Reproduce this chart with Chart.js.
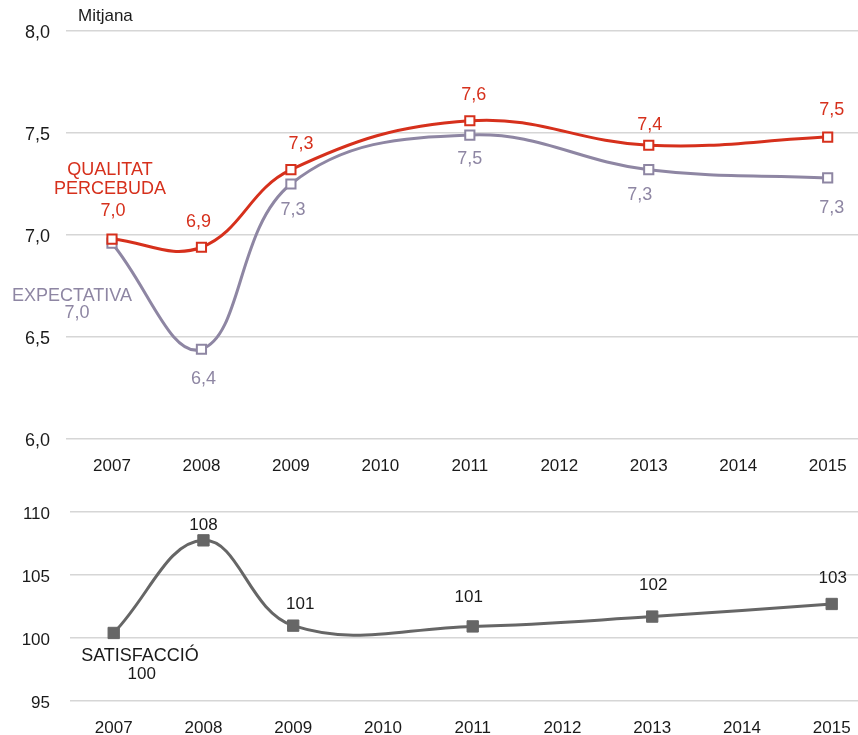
<!DOCTYPE html>
<html>
<head>
<meta charset="utf-8">
<script src="https://cdn.jsdelivr.net/npm/chart.js@4/dist/chart.umd.min.js"></script>
<style>
  body { margin: 0; background: #fff; }
  #dalt { position: absolute; left: 0; top: 0; width: 858px; height: 480px; }
  #baix { position: absolute; left: 0; top: 480px; width: 858px; height: 255px; }
</style>
</head>
<body>
<div id="dalt"><canvas id="grafic1" width="858" height="480"></canvas></div>
<div id="baix"><canvas id="grafic2" width="858" height="255"></canvas></div>
<script>
// Anys de l'eix X (2010, 2012 i 2014 sense dades)
const anys = [2007, 2008, 2009, 2010, 2011, 2012, 2013, 2014, 2015];
const anysAmbDades = [2007, 2008, 2009, 2011, 2013, 2015];

// Mitjana (escala 0-10)
const qualitatPercebuda = [6.98, 6.94, 7.32, 7.56, 7.44, 7.48];
const expectativa = [6.96, 6.44, 7.25, 7.49, 7.32, 7.28];

// Índex de satisfacció (2007 = 100)
const satisfaccio = [100.4, 107.75, 100.98, 100.92, 101.7, 102.7];

const vermell = '#d6301c';
const lila = '#8e86a3';
const gris = '#666666';
const textFosc = '#1a1a1a';

Chart.defaults.font.family = '"Liberation Sans", Arial, sans-serif';
Chart.defaults.color = textFosc;

const coma = v => v.toFixed(1).replace('.', ',');
const punts = vals => vals.map((v, i) => ({ x: anysAmbDades[i], y: v }));

// Etiquetes de valor i textos fixos
const etiquetes = {
    id: 'etiquetes',
    afterDatasetsDraw(chart, args, opts) {
        const ctx = chart.ctx;
        ctx.save();
        ctx.textAlign = 'center';
        ctx.textBaseline = 'middle';
        (opts.series || []).forEach(s => {
            const meta = chart.getDatasetMeta(s.dataset);
            const valors = chart.data.datasets[s.dataset].data;
            ctx.fillStyle = s.color;
            ctx.font = s.font;
            meta.data.forEach((pt, i) => {
                const d = s.offsets[i];
                ctx.fillText(s.format(valors[i].y), pt.x + d[0], pt.y + d[1]);
            });
        });
        (opts.notes || []).forEach(n => {
            ctx.fillStyle = n.color;
            ctx.font = n.font;
            ctx.textAlign = n.align || 'center';
            ctx.fillText(n.text, n.x, n.y);
        });
        ctx.restore();
    }
};

function eixX(min, max, alt) {
    return {
        type: 'linear',
        min: min,
        max: max,
        afterBuildTicks: s => { s.ticks = anys.map(v => ({ value: v })); },
        afterFit: s => {
            s.height = alt;
            s.paddingLeft = 0;
            s.paddingRight = 0;
        },
        grid: { display: false },
        border: { display: false },
        ticks: {
            autoSkip: false,
            maxRotation: 0,
            padding: 9,
            font: { size: 17 },
            color: textFosc,
            callback: v => String(v)
        }
    };
}

new Chart(document.getElementById('grafic1'), {
    type: 'line',
    data: {
        datasets: [
            {
                label: 'Qualitat percebuda',
                data: punts(qualitatPercebuda),
                borderColor: vermell,
                borderWidth: 3,
                tension: 0.4,
                pointStyle: 'rect',
                pointRadius: 6.5,
                pointBorderWidth: 2,
                pointBackgroundColor: '#fff',
                pointBorderColor: vermell
            },
            {
                label: 'Expectativa',
                data: punts(expectativa),
                borderColor: lila,
                borderWidth: 3,
                tension: 0.4,
                pointStyle: 'rect',
                pointRadius: 6.5,
                pointBorderWidth: 2,
                pointBackgroundColor: '#fff',
                pointBorderColor: lila
            }
        ]
    },
    options: {
        responsive: false,
        animation: false,
        layout: { autoPadding: false, padding: { top: 31, right: 0, bottom: 0, left: 0 } },
        scales: {
            x: eixX(2006.486, 2015.339, 41),
            y: {
                min: 6,
                max: 8,
                afterFit: s => { s.width = 66; },
                border: { display: false },
                grid: { color: '#d6d6d6', lineWidth: 1.5, drawTicks: false },
                ticks: { stepSize: 0.5, padding: 16, labelOffset: 2, font: { size: 18 }, color: textFosc, callback: v => coma(v) }
            }
        },
        plugins: {
            legend: { display: false },
            tooltip: { enabled: false },
            etiquetes: {
                series: [
                    { dataset: 0, color: vermell, font: '18px "Liberation Sans", Arial, sans-serif', format: coma,
                      offsets: [[1, -28], [-3, -25], [10, -26], [4, -26], [1, -20], [4, -27]] },
                    { dataset: 1, color: lila, font: '18px "Liberation Sans", Arial, sans-serif', format: coma,
                      offsets: [[-35, 70], [2, 30], [2, 26], [0, 24], [-9, 25], [4, 30]] }
                ],
                notes: [
                    { text: 'Mitjana', x: 78, y: 16, align: 'left', color: textFosc, font: '17px "Liberation Sans", Arial, sans-serif' },
                    { text: 'QUALITAT', x: 110, y: 170, color: vermell, font: '18px "Liberation Sans", Arial, sans-serif' },
                    { text: 'PERCEBUDA', x: 110, y: 189, color: vermell, font: '18px "Liberation Sans", Arial, sans-serif' },
                    { text: 'EXPECTATIVA', x: 72, y: 296, color: lila, font: '18px "Liberation Sans", Arial, sans-serif' }
                ]
            }
        }
    },
    plugins: [etiquetes]
});

new Chart(document.getElementById('grafic2'), {
    type: 'line',
    data: {
        datasets: [{
            label: 'Satisfacció',
            data: punts(satisfaccio),
            borderColor: gris,
            borderWidth: 3,
            tension: 0.4,
            pointStyle: 'rect',
            pointRadius: 8,
            pointBorderWidth: 1,
            pointBackgroundColor: gris,
            pointBorderColor: gris
        }]
    },
    options: {
        responsive: false,
        animation: false,
        layout: { autoPadding: false, padding: { top: 32, right: 0, bottom: 0, left: 0 } },
        scales: {
            x: eixX(2006.513, 2015.293, 34),
            y: {
                min: 95,
                max: 110,
                afterFit: s => { s.width = 70; },
                border: { display: false },
                grid: { color: '#d6d6d6', lineWidth: 1.5, drawTicks: false },
                ticks: { stepSize: 5, padding: 20, labelOffset: 2, font: { size: 17 }, color: textFosc }
            }
        },
        plugins: {
            legend: { display: false },
            tooltip: { enabled: false },
            etiquetes: {
                series: [
                    { dataset: 0, color: textFosc, font: '17px "Liberation Sans", Arial, sans-serif', format: v => v.toFixed(0),
                      offsets: [[28, 41], [0, -15], [7, -21], [-4, -29], [1, -31], [1, -26]] }
                ],
                notes: [
                    { text: 'SATISFACCIÓ', x: 140, y: 176, color: textFosc, font: '18px "Liberation Sans", Arial, sans-serif' }
                ]
            }
        }
    },
    plugins: [etiquetes]
});
</script>
</body>
</html>
